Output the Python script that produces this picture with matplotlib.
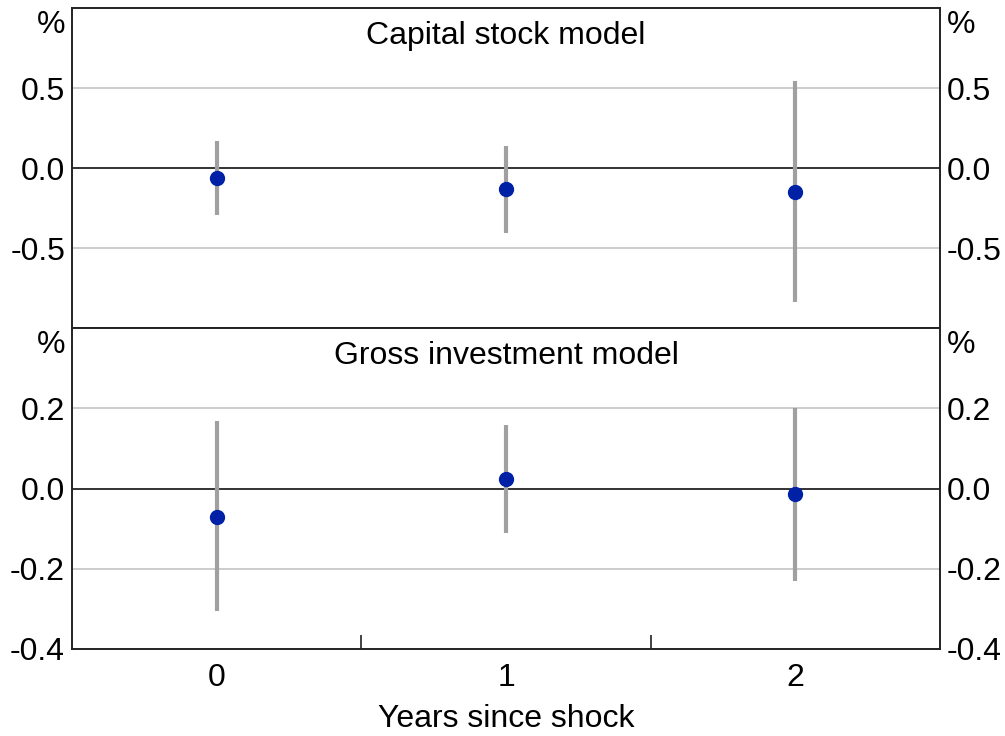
import matplotlib
matplotlib.use("Agg")
import matplotlib.pyplot as plt

plt.rcParams['font.family'] = ['Liberation Sans', 'DejaVu Sans']

# Data
years = [0, 1, 2]

# Capital stock model
cap_mid = [-0.064, -0.133, -0.148]
cap_lo = [-0.294, -0.404, -0.835]
cap_hi = [0.169, 0.135, 0.542]

# Gross investment model
inv_mid = [-0.070, 0.024, -0.014]
inv_lo = [-0.306, -0.112, -0.230]
inv_hi = [0.167, 0.158, 0.200]

panels = [
    ("Capital stock model", cap_mid, cap_lo, cap_hi, (-1.0, 1.0), [-0.5, 0.0, 0.5]),
    ("Gross investment model", inv_mid, inv_lo, inv_hi, (-0.4, 0.4), [-0.4, -0.2, 0.0, 0.2]),
]

dot_color = '#0021A5'
bar_color = '#A0A0A0'
grid_color = '#C4C4C4'
fs = 23

fig = plt.figure(figsize=(10.05, 7.36), dpi=100)
left, width = 72 / 1005, (940 - 72) / 1005
ax_top = fig.add_axes([left, 1 - 328 / 736, width, 320 / 736])
ax_bot = fig.add_axes([left, 1 - 649 / 736, width, 321 / 736], sharex=ax_top)

for ax, (title, mid, lo, hi, ylim, yticks) in zip([ax_top, ax_bot], panels):
    ax.set_xlim(-0.5, 2.5)
    ax.set_ylim(*ylim)
    ax.set_yticks(yticks)
    ax.set_yticklabels([f"{t:.1f}" for t in yticks])

    # grid lines and zero line
    for t in yticks:
        if t == 0:
            ax.axhline(0, color='#333333', lw=1.4, zorder=1)
        elif ylim[0] < t < ylim[1]:
            ax.axhline(t, color=grid_color, lw=1.2, zorder=0)

    # error bars and point estimates
    ax.vlines(years, lo, hi, color=bar_color, lw=3, zorder=2)
    ax.plot(years, mid, 'o', color=dot_color, ms=10, zorder=3)

    ax.tick_params(axis='y', which='both', length=0, labelsize=fs,
                   labelleft=True, labelright=True, pad=5)
    for s in ax.spines.values():
        s.set_linewidth(1.4)
        s.set_color('#222222')

    ax.text(0.5, 1 - 28 / 320, title, transform=ax.transAxes,
            ha='center', va='center', fontsize=fs)
    ax.text(-0.008, 1 - 17 / 320, '%', transform=ax.transAxes,
            ha='right', va='center', fontsize=fs)
    ax.text(1.008, 1 - 17 / 320, '%', transform=ax.transAxes,
            ha='left', va='center', fontsize=fs)

# x axis: labels on the bottom panel only, separator ticks between years
ax_bot.set_xticks(years)
ax_bot.set_xticks([0.5, 1.5], minor=True)
ax_bot.tick_params(axis='x', which='major', length=0, labelsize=fs, pad=10)
ax_bot.tick_params(axis='x', which='minor', direction='in', length=10,
                   width=1.2, color='#222222')
ax_top.tick_params(axis='x', which='both', length=0, labelbottom=False)
ax_bot.set_xlabel("Years since shock", fontsize=fs, labelpad=8)

fig.savefig("out.png", dpi=100)
